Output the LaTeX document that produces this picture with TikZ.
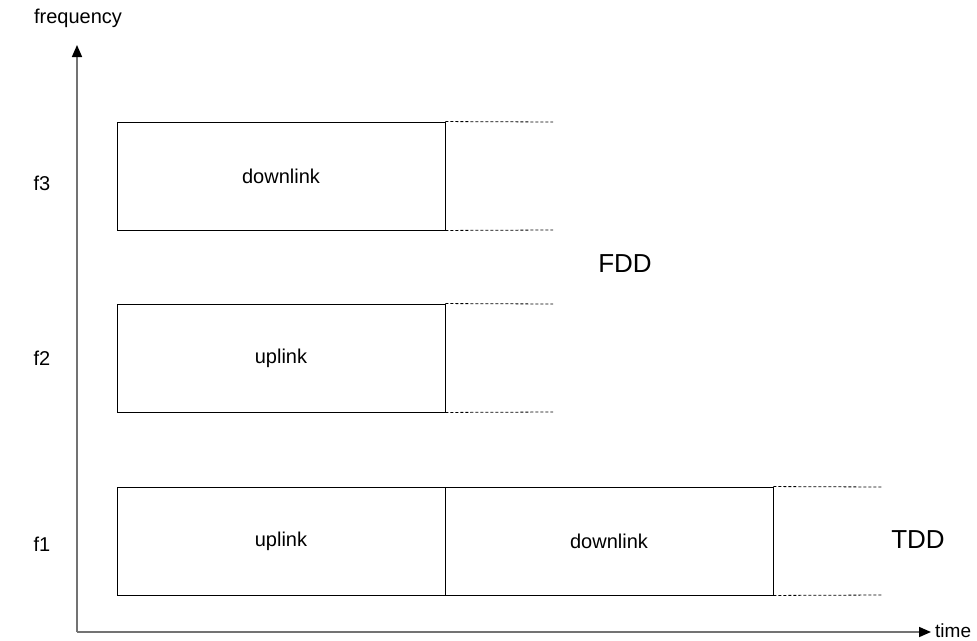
\documentclass[tikz,border=0pt]{standalone}
\usepackage{fontspec}
\setmainfont{Liberation Sans}
\usetikzlibrary{arrows.meta}

\begin{document}
\begin{tikzpicture}[x=1pt,y=-1pt]
    \tikzstyle{band} = [shape=rectangle,draw,line width=0.9pt,minimum width=328pt,minimum height=108pt,inner sep=0pt,font=\fontsize{20}{24}\selectfont]
    \tikzstyle{ext} = [dash pattern=on 3pt off 2pt,line width=0.8pt]
    \tikzstyle{axis} = [draw=black!55,line width=1.6pt,-{Triangle[length=12pt,width=10pt,fill=black,color=black]}]
    \tikzstyle{lbl} = [font=\fontsize{20}{24}\selectfont]
    \useasboundingbox (0,0) rectangle (977,640);
    \coordinate (o) at (77,632);
    \coordinate (ytop) at (77,45);
    \coordinate (xend) at (931,632);
    \node [band] (f3dl) at (281,176) {downlink};
    \node [band] (f2ul) at (281,358) {uplink};
    \node [band] (f1ul) at (281,541) {uplink};
    \node [band] (f1dl) at (609,541) {downlink};
    \coordinate (e3a) at (553,122);
    \coordinate (e3b) at (553,230);
    \coordinate (e2a) at (553,304);
    \coordinate (e2b) at (553,412);
    \coordinate (e1a) at (882,487);
    \coordinate (e1b) at (882,595);
    \node [lbl] (lf3) at (42,183) {f3};
    \node [lbl] (lf2) at (42,358) {f2};
    \node [lbl] (lf1) at (42,544) {f1};
    \node [lbl] (freq) at (78,18) {frequency};
    \node [font=\fontsize{19}{22}\selectfont,anchor=west,inner sep=0pt] (time) at (935,631) {time};
    \node [font=\fontsize{26}{30}\selectfont] (fdd) at (625,264) {FDD};
    \node [font=\fontsize{26}{30}\selectfont] (tdd) at (918,540) {TDD};
    \draw [axis] (o) -- (ytop);
    \draw [axis] (o) -- (xend);
    \draw [ext] (f3dl.north east) -- (e3a);
    \draw [ext] (f3dl.south east) -- (e3b);
    \draw [ext] (f2ul.north east) -- (e2a);
    \draw [ext] (f2ul.south east) -- (e2b);
    \draw [ext] (f1dl.north east) -- (e1a);
    \draw [ext] (f1dl.south east) -- (e1b);
\end{tikzpicture}
\end{document}
